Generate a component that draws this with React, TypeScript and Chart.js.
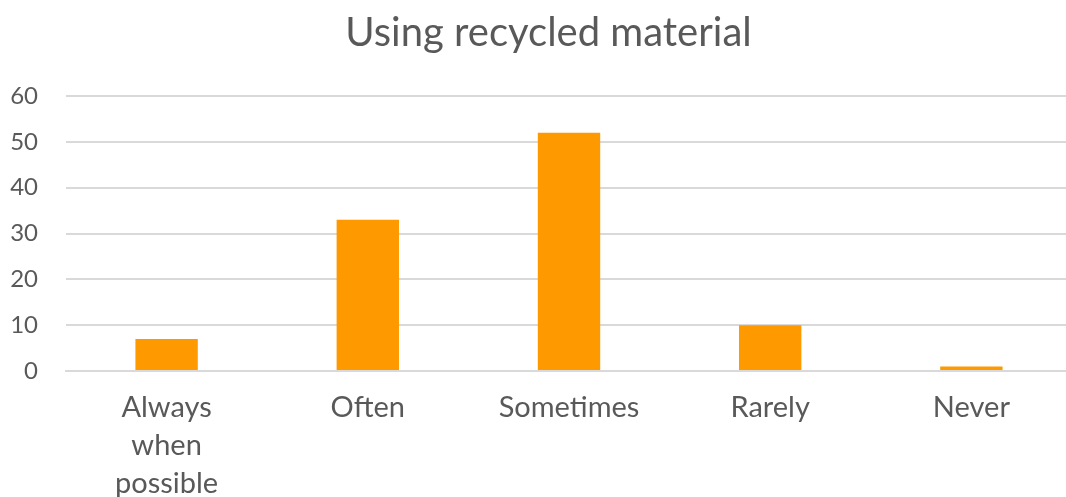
import React, { useEffect, useRef } from "react";
import { Chart, registerables } from "chart.js";

Chart.register(...registerables);

const chartTitle = "Using recycled material";
const categories: (string | string[])[] = [
  ["Always", "when", "possible"],
  "Often",
  "Sometimes",
  "Rarely",
  "Never",
];
const responses = [7, 33, 52, 10, 1];
const yMin = 0;
const yMax = 60;
const yStep = 10;

const FONT = "Lato, 'Open Sans', sans-serif";
const TEXT = "#595959";
const GRID = "#d9d9d9";
const BAR = "#ff9900";

// The value axis sits inside the left layout padding; widen its label
// clipping box to the canvas edge so the tick labels are not cut off.
const widenValueAxis = {
  id: "widenValueAxis",
  afterLayout(chart: any) {
    const y = chart.scales.y;
    if (y) y.left = 0;
  },
};

export default function App() {
  const canvasRef = useRef<HTMLCanvasElement | null>(null);

  useEffect(() => {
    const canvas = canvasRef.current;
    if (!canvas) return;
    const chart = new Chart(canvas, {
      type: "bar",
      data: {
        labels: categories,
        datasets: [
          {
            data: responses,
            backgroundColor: BAR,
            borderWidth: 0,
            barPercentage: 0.31,
            categoryPercentage: 1,
          },
        ],
      },
      plugins: [widenValueAxis],
      options: {
        animation: false,
        responsive: false,
        maintainAspectRatio: false,
        layout: { padding: { left: 25, right: 0, top: 0, bottom: 0 } },
        plugins: {
          legend: { display: false },
          tooltip: { enabled: false },
          title: {
            display: true,
            text: chartTitle,
            color: TEXT,
            font: { family: FONT, size: 40, weight: "normal", lineHeight: 1.2 },
            padding: { top: 9, bottom: 39 },
          },
        },
        scales: {
          x: {
            grid: { display: false, drawTicks: false },
            border: { display: true, color: GRID, width: 2 },
            ticks: {
              color: TEXT,
              font: { family: FONT, size: 29, lineHeight: 1.31 },
              padding: 18,
              maxRotation: 0,
              autoSkip: false,
            },
            afterFit: (scale: any) => {
              scale.height = 126;
            },
          },
          y: {
            min: yMin,
            max: yMax,
            grid: { color: GRID, lineWidth: 2, drawTicks: false },
            border: { display: false },
            ticks: {
              stepSize: yStep,
              color: TEXT,
              font: { family: FONT, size: 24 },
              padding: 28,
            },
            afterFit: (scale: any) => {
              scale.width = 41;
            },
          },
        },
      },
    });
    return () => chart.destroy();
  }, []);

  return (
    <div
      style={{
        position: "absolute",
        left: 0,
        top: 0,
        width: 1066,
        height: 497,
        overflow: "hidden",
        background: "#fff",
      }}
    >
      <canvas ref={canvasRef} width={1072} height={497} style={{ display: "block" }} />
    </div>
  );
}
